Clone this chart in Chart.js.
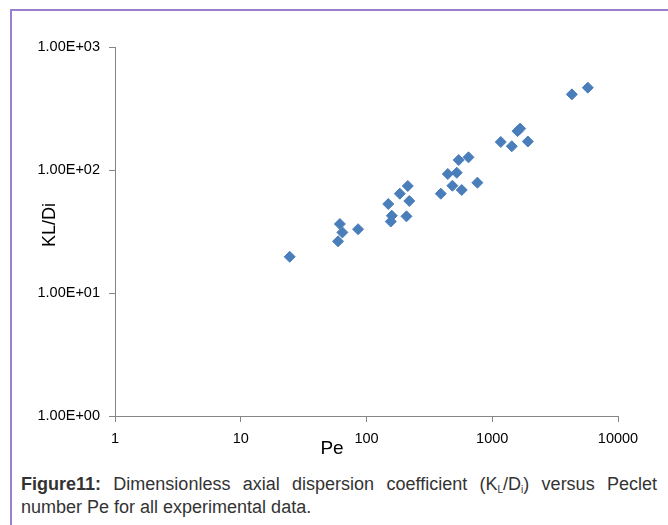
<!DOCTYPE html>
<html>
<head>
<meta charset="utf-8">
<script src="https://cdn.jsdelivr.net/npm/chart.js@4"></script>
<style>
    body { margin: 0; background: #fff; width: 668px; height: 525px; overflow: hidden; position: relative; }
    .frame { position: absolute; left: 10px; top: 9px; width: 700px; height: 600px; border-left: 2px solid #9a80cc; border-top: 2px solid #9a80cc; }
    .chart-box { position: absolute; left: 0; top: 0; width: 668px; height: 470px; }
    .caption { position: absolute; left: 21px; top: 473px; width: 636px; font-family: "Liberation Sans", Arial, sans-serif; font-size: 18px; line-height: 23px; color: #333; }
    .caption .l1 { text-align: justify; text-align-last: justify; white-space: nowrap; }
    .caption sub { font-size: 10px; vertical-align: -3px; line-height: 0; }
</style>
</head>
<body>
<div class="frame"></div>
<div class="chart-box"><canvas id="peChart" width="668" height="470"></canvas></div>
<div class="caption">
    <div class="l1"><b>Figure11:</b> Dimensionless axial dispersion coefficient (K<sub>L</sub>/D<sub>i</sub>) versus Peclet</div>
    <div>number Pe for all experimental data.</div>
</div>
<script>
// Peclet number (x) and KL/Di (y)
var peValues = [24.5, 59.4, 61.4, 64.3, 85.7, 149, 156, 159, 184, 208, 213, 219, 390, 443, 482, 522, 541, 572, 647, 762, 1169, 1430, 1588, 1667, 1919, 4295, 5754];
var klValues = [19.7, 26.3, 36.4, 31.1, 33.0, 52.9, 38.1, 42.5, 64.2, 42.0, 74.1, 56.0, 64.2, 92.8, 74.5, 95.1, 120.5, 68.8, 126.8, 78.9, 169, 156, 207, 217, 170.5, 412, 467];

var xTickValues = [1, 10, 100, 1000, 10000];
var xTickLabels = ['1', '10', '100', '1000', '10000'];
var yTickValues = [1, 10, 100, 1000];
var yTickLabels = ['1.00E+00', '1.00E+01', '1.00E+02', '1.00E+03'];

var axisColor = '#868686';
var tickFont = { family: 'Liberation Sans', size: 14.5 };

// axis titles are placed by hand like in the excel original
var axisTitles = {
    id: 'axisTitles',
    afterDraw: function (chart) {
        var ctx = chart.ctx;
        var area = chart.chartArea;
        ctx.save();
        ctx.fillStyle = '#000';
        ctx.font = '19px "Liberation Sans"';
        ctx.textAlign = 'center';
        ctx.textBaseline = 'middle';
        ctx.fillText('Pe', area.left + 217, 449);
        ctx.translate(50, 225);
        ctx.rotate(-Math.PI / 2);
        ctx.font = '18px "Liberation Sans"';
        ctx.fillText('KL/Di', 0, 0);
        ctx.restore();
    }
};

var points = peValues.map(function (pe, i) {
    return { x: pe, y: klValues[i] };
});

var ctx = document.getElementById('peChart').getContext('2d');
new Chart(ctx, {
    type: 'scatter',
    data: {
        datasets: [{
            label: 'KL/Di',
            data: points,
            pointStyle: 'rectRot',
            pointRadius: 5.5,
            pointHoverRadius: 5.5,
            backgroundColor: '#4a7ebb',
            borderColor: '#4a7ebb',
            borderWidth: 1
        }]
    },
    options: {
        responsive: false,
        animation: false,
        layout: {
            padding: { left: 35, top: 47, right: 50, bottom: 0 }
        },
        plugins: {
            legend: { display: false },
            tooltip: { enabled: false }
        },
        scales: {
            x: {
                type: 'logarithmic',
                min: 1,
                max: 10000,
                afterBuildTicks: function (scale) {
                    scale.ticks = xTickValues.map(function (v) { return { value: v }; });
                },
                afterFit: function (scale) { scale.height = 54; },
                ticks: {
                    color: '#000',
                    font: tickFont,
                    padding: 8,
                    maxRotation: 0,
                    callback: function (value, index) { return xTickLabels[index]; }
                },
                grid: { drawOnChartArea: false, drawTicks: true, tickLength: 6, color: axisColor },
                border: { display: true, color: axisColor, width: 1 }
            },
            y: {
                type: 'logarithmic',
                min: 1,
                max: 1000,
                afterBuildTicks: function (scale) {
                    scale.ticks = yTickValues.map(function (v) { return { value: v }; });
                },
                afterFit: function (scale) { scale.width = 80; },
                ticks: {
                    color: '#000',
                    font: tickFont,
                    padding: 9,
                    callback: function (value, index) { return yTickLabels[index]; }
                },
                grid: { drawOnChartArea: false, drawTicks: true, tickLength: 6, color: axisColor },
                border: { display: true, color: axisColor, width: 1 }
            }
        }
    },
    plugins: [axisTitles]
});
</script>
</body>
</html>
